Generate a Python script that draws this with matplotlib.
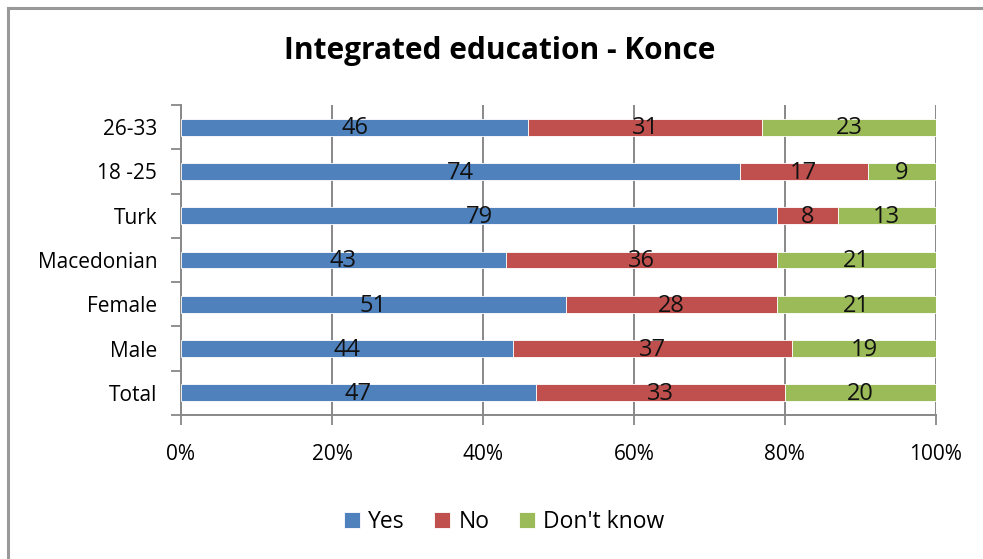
import matplotlib
matplotlib.use("Agg")
from matplotlib import pyplot as plt
from matplotlib.lines import Line2D
import numpy as np

plt.rcParams['font.family'] = ['Open Sans', 'DejaVu Sans']

groups = ['Total', 'Male', 'Female', 'Macedonian', 'Turk', '18 -25', '26-33']
yes = [47, 44, 51, 43, 79, 74, 46]
no = [33, 37, 28, 36, 8, 17, 31]
dont_know = [20, 19, 21, 21, 13, 9, 23]

series = [('Yes', yes, '#4F81BD'), ('No', no, '#C0504D'), ("Don't know", dont_know, '#9BBB59')]
grid_col = '#888888'

fig = plt.figure(figsize=(9.83, 5.59), dpi=100)
ax = fig.add_axes([0.1841, 0.2576, 0.768, 0.5546])

pos = np.arange(len(groups))
left = np.zeros(len(groups))
for name, vals, col in series:
    vals = np.array(vals, dtype=float)
    ax.barh(pos, vals, left=left, height=0.38, color=col, edgecolor='white',
            linewidth=0.6, label=name, zorder=3)
    for y, l, v in zip(pos, left, vals):
        ax.text(l + v / 2, y - 0.03, '%d' % v, ha='center', va='center',
                fontsize=17, color='#111111', zorder=4)
    left += vals

ax.set_xlim(0, 100)
ax.set_ylim(-0.5, len(groups) - 0.5)
ax.set_xticks(np.arange(0, 101, 20))
ax.set_xticklabels(['%d%%' % v for v in range(0, 101, 20)], fontsize=15)
ax.set_yticks(pos)
ax.set_yticklabels(groups, fontsize=15)
ax.set_yticks(np.arange(-0.5, len(groups), 1), minor=True)
ax.tick_params(axis='y', which='major', length=0, pad=17)
ax.tick_params(axis='y', which='minor', length=7, width=1.3, color=grid_col)
ax.tick_params(axis='x', length=7, width=1.3, color=grid_col, pad=14)
ax.xaxis.grid(True, color=grid_col, linewidth=1.4, zorder=0)
for s in ['top', 'right']:
    ax.spines[s].set_visible(False)
for s in ['left', 'bottom']:
    ax.spines[s].set_color(grid_col)
    ax.spines[s].set_linewidth(1.4)

fig.text(0.508, 0.908, 'Integrated education - Konce', ha='center', va='center',
         fontsize=21.5, fontweight='bold')

handles, labels = ax.get_legend_handles_labels()
fig.legend(handles, labels, loc='center', bbox_to_anchor=(0.513, 0.066), ncol=3,
           frameon=False, fontsize=16.5, handlelength=0.7, handleheight=0.7,
           handletextpad=0.35, columnspacing=1.3)

# chart frame along the top and left edges
fig.add_artist(Line2D([0.0085, 0.0085], [0, 0.986], color='#999999', linewidth=2.2,
                      transform=fig.transFigure))
fig.add_artist(Line2D([0.0085, 1.0], [0.986, 0.986], color='#999999', linewidth=2.2,
                      transform=fig.transFigure))

fig.savefig('out.png', dpi=100)
